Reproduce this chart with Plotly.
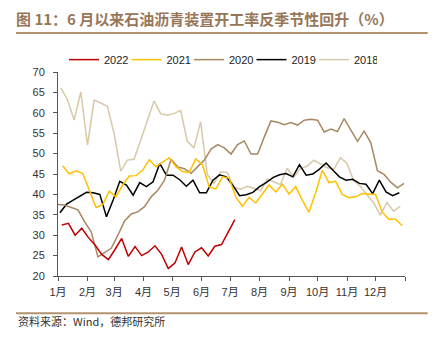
import pandas as pd
import plotly.graph_objects as go

# Weekly operating rate of petroleum asphalt units (%), by year
v2022 = [32.5, 32.9, 30.0, 31.7, 29.4, 27.6, 25.3, 24.0, 26.5, 29.2, 24.8, 27.2, 25.0, 25.9,
         27.4, 25.3, 21.8, 23.2, 27.1, 22.8, 25.9, 26.9, 24.9, 27.3, 27.7, 30.9, 33.8]
v2021 = [47.0, 45.0, 45.8, 45.1, 41.0, 36.8, 37.5, 40.8, 39.4, 42.3, 44.5, 44.6, 45.9, 48.5,
         46.8, 48.0, 49.0, 46.8, 45.6, 45.4, 48.7, 47.2, 41.9, 41.3, 44.3, 44.0, 39.4, 37.1,
         39.3, 37.9, 40.2, 42.3, 40.6, 42.5, 40.1, 41.9, 38.6, 35.6, 40.4, 45.9, 42.9, 43.2,
         40.0, 39.2, 39.4, 40.2, 40.1, 40.0, 35.7, 33.9, 33.9, 32.3]
v2020 = [37.5, 37.4, 36.8, 36.2, 33.3, 30.8, 24.7, 25.7, 26.8, 30.0, 33.5, 35.2, 35.7, 37.0,
         39.4, 41.0, 43.5, 48.6, 46.7, 46.3, 45.2, 46.8, 48.4, 51.1, 52.2, 51.4, 49.9, 52.2,
         53.1, 49.9, 49.9, 54.1, 58.0, 57.7, 57.1, 57.6, 57.0, 58.2, 58.4, 58.2, 55.3, 56.0,
         55.4, 58.6, 55.8, 53.0, 55.5, 52.7, 45.8, 44.9, 43.0, 41.6, 42.7]
v2019 = [35.5, 37.6, 38.6, 39.6, 40.5, 40.4, 40.0, 34.5, 38.6, 43.2, 42.3, 39.8, 42.9, 41.9,
         43.1, 47.6, 44.7, 44.7, 43.6, 42.0, 43.5, 40.4, 40.4, 43.5, 44.8, 44.3, 42.2, 39.7,
         39.9, 40.5, 41.9, 42.9, 44.1, 44.8, 45.1, 44.3, 47.3, 44.7, 45.0, 46.2, 47.7, 46.0,
         44.3, 43.5, 43.7, 42.7, 42.5, 40.2, 43.5, 40.6, 39.7, 40.4]
v2018 = [66.1, 63.2, 58.2, 65.1, 52.1, 63.1, 62.4, 61.6, 54.9, 45.7, 48.4, 48.6, 53.3, 58.2,
         62.9, 59.8, 59.4, 59.8, 60.6, 53.0, 51.4, 57.8, 44.9, 42.7, 45.5, 45.4, 41.7, 41.3,
         42.0, 41.5, 40.9, 43.7, 43.1, 42.4, 46.4, 44.2, 46.4, 46.9, 48.4, 47.4, 46.6, 46.1,
         49.0, 47.6, 43.4, 42.0, 40.0, 37.9, 34.9, 38.0, 35.9, 37.1]

# First reporting day of each year, placed on a shared calendar year
first_day = {"2022": "01-05", "2021": "01-06", "2020": "01-01", "2019": "01-03", "2018": "01-04"}
month_labels = ["1月", "2月", "3月", "4月", "5月", "6月", "7月", "8月", "9月", "10月", "11月", "12月", ""]

series = [
    ("2018", v2018, "#D8C8A8"),
    ("2019", v2019, "#000000"),
    ("2020", v2020, "#A88763"),
    ("2021", v2021, "#FFC000"),
    ("2022", v2022, "#C00000"),
]

BASE = "2021"
fig = go.Figure()
for name, vals, color in series:
    dates = pd.date_range(f"{BASE}-{first_day[name]}", periods=len(vals), freq="7D")
    fig.add_trace(go.Scatter(x=dates, y=vals, mode="lines", name=name,
                             line=dict(color=color, width=1.5)))

W, H = 438, 345
L, R, T, B = 58, 405.3, 71.7, 276.0


def px_x(x):
    return (x - L) / (R - L)


def px_y(y):
    return (B - y) / (B - T)


FONT = "Liberation Sans, Arial, Noto Sans CJK SC, sans-serif"
CJK = "Noto Sans CJK SC, sans-serif"
RULE = "#B3936F"

month_starts = pd.date_range(f"{BASE}-01-01", periods=13, freq="MS")

fig.update_layout(
    width=W, height=H,
    margin=dict(l=L, r=W - R, t=T, b=H - B),
    paper_bgcolor="white", plot_bgcolor="white",
    font=dict(family=FONT, size=11, color="#333333"),
    showlegend=True,
    legend=dict(orientation="h", traceorder="reversed",
                x=px_x(64), xanchor="left", y=px_y(59.3), yanchor="middle",
                entrywidth=17.5, entrywidthmode="pixels",
                font=dict(family=FONT, size=11, color="#222222"),
                bgcolor="rgba(0,0,0,0)"),
    title=dict(text="图 11：6 月以来石油沥青装置开工率反季节性回升（%）",
               font=dict(family=CJK, size=15, color="#977657", weight="bold"),
               x=16 / W, xanchor="left", xref="container",
               y=1 - 20 / H, yanchor="middle", yref="container"),
    xaxis=dict(type="date", range=[f"{BASE}-01-01", f"{int(BASE) + 1}-01-01"],
               tickvals=month_starts, ticktext=month_labels,
               showgrid=False, zeroline=False,
               showline=True, linecolor="#555555", linewidth=1,
               ticks="outside", ticklen=4, tickcolor="#555555",
               tickfont=dict(family=FONT, size=11, color="#333333"),
               ticklabelstandoff=2),
    yaxis=dict(range=[20, 70], tickvals=list(range(20, 71, 5)),
               showgrid=False, zeroline=False,
               showline=True, linecolor="#555555", linewidth=1,
               ticks="outside", ticklen=4, tickcolor="#555555",
               tickfont=dict(family=FONT, size=11, color="#333333"),
               ticklabelstandoff=6),
    shapes=[
        dict(type="line", xref="paper", yref="paper",
             x0=px_x(16), x1=px_x(428), y0=px_y(32.7), y1=px_y(32.7),
             line=dict(color=RULE, width=2)),
        dict(type="line", xref="paper", yref="paper",
             x0=px_x(16), x1=px_x(428), y0=px_y(313.3), y1=px_y(313.3),
             line=dict(color=RULE, width=2)),
    ],
    annotations=[
        dict(text="资料来源：Wind，德邦研究所", xref="paper", yref="paper",
             x=px_x(16), y=px_y(321), xanchor="left", yanchor="middle",
             showarrow=False, font=dict(family=CJK, size=11, color="#333333")),
    ],
)

fig.write_html("out.html")
